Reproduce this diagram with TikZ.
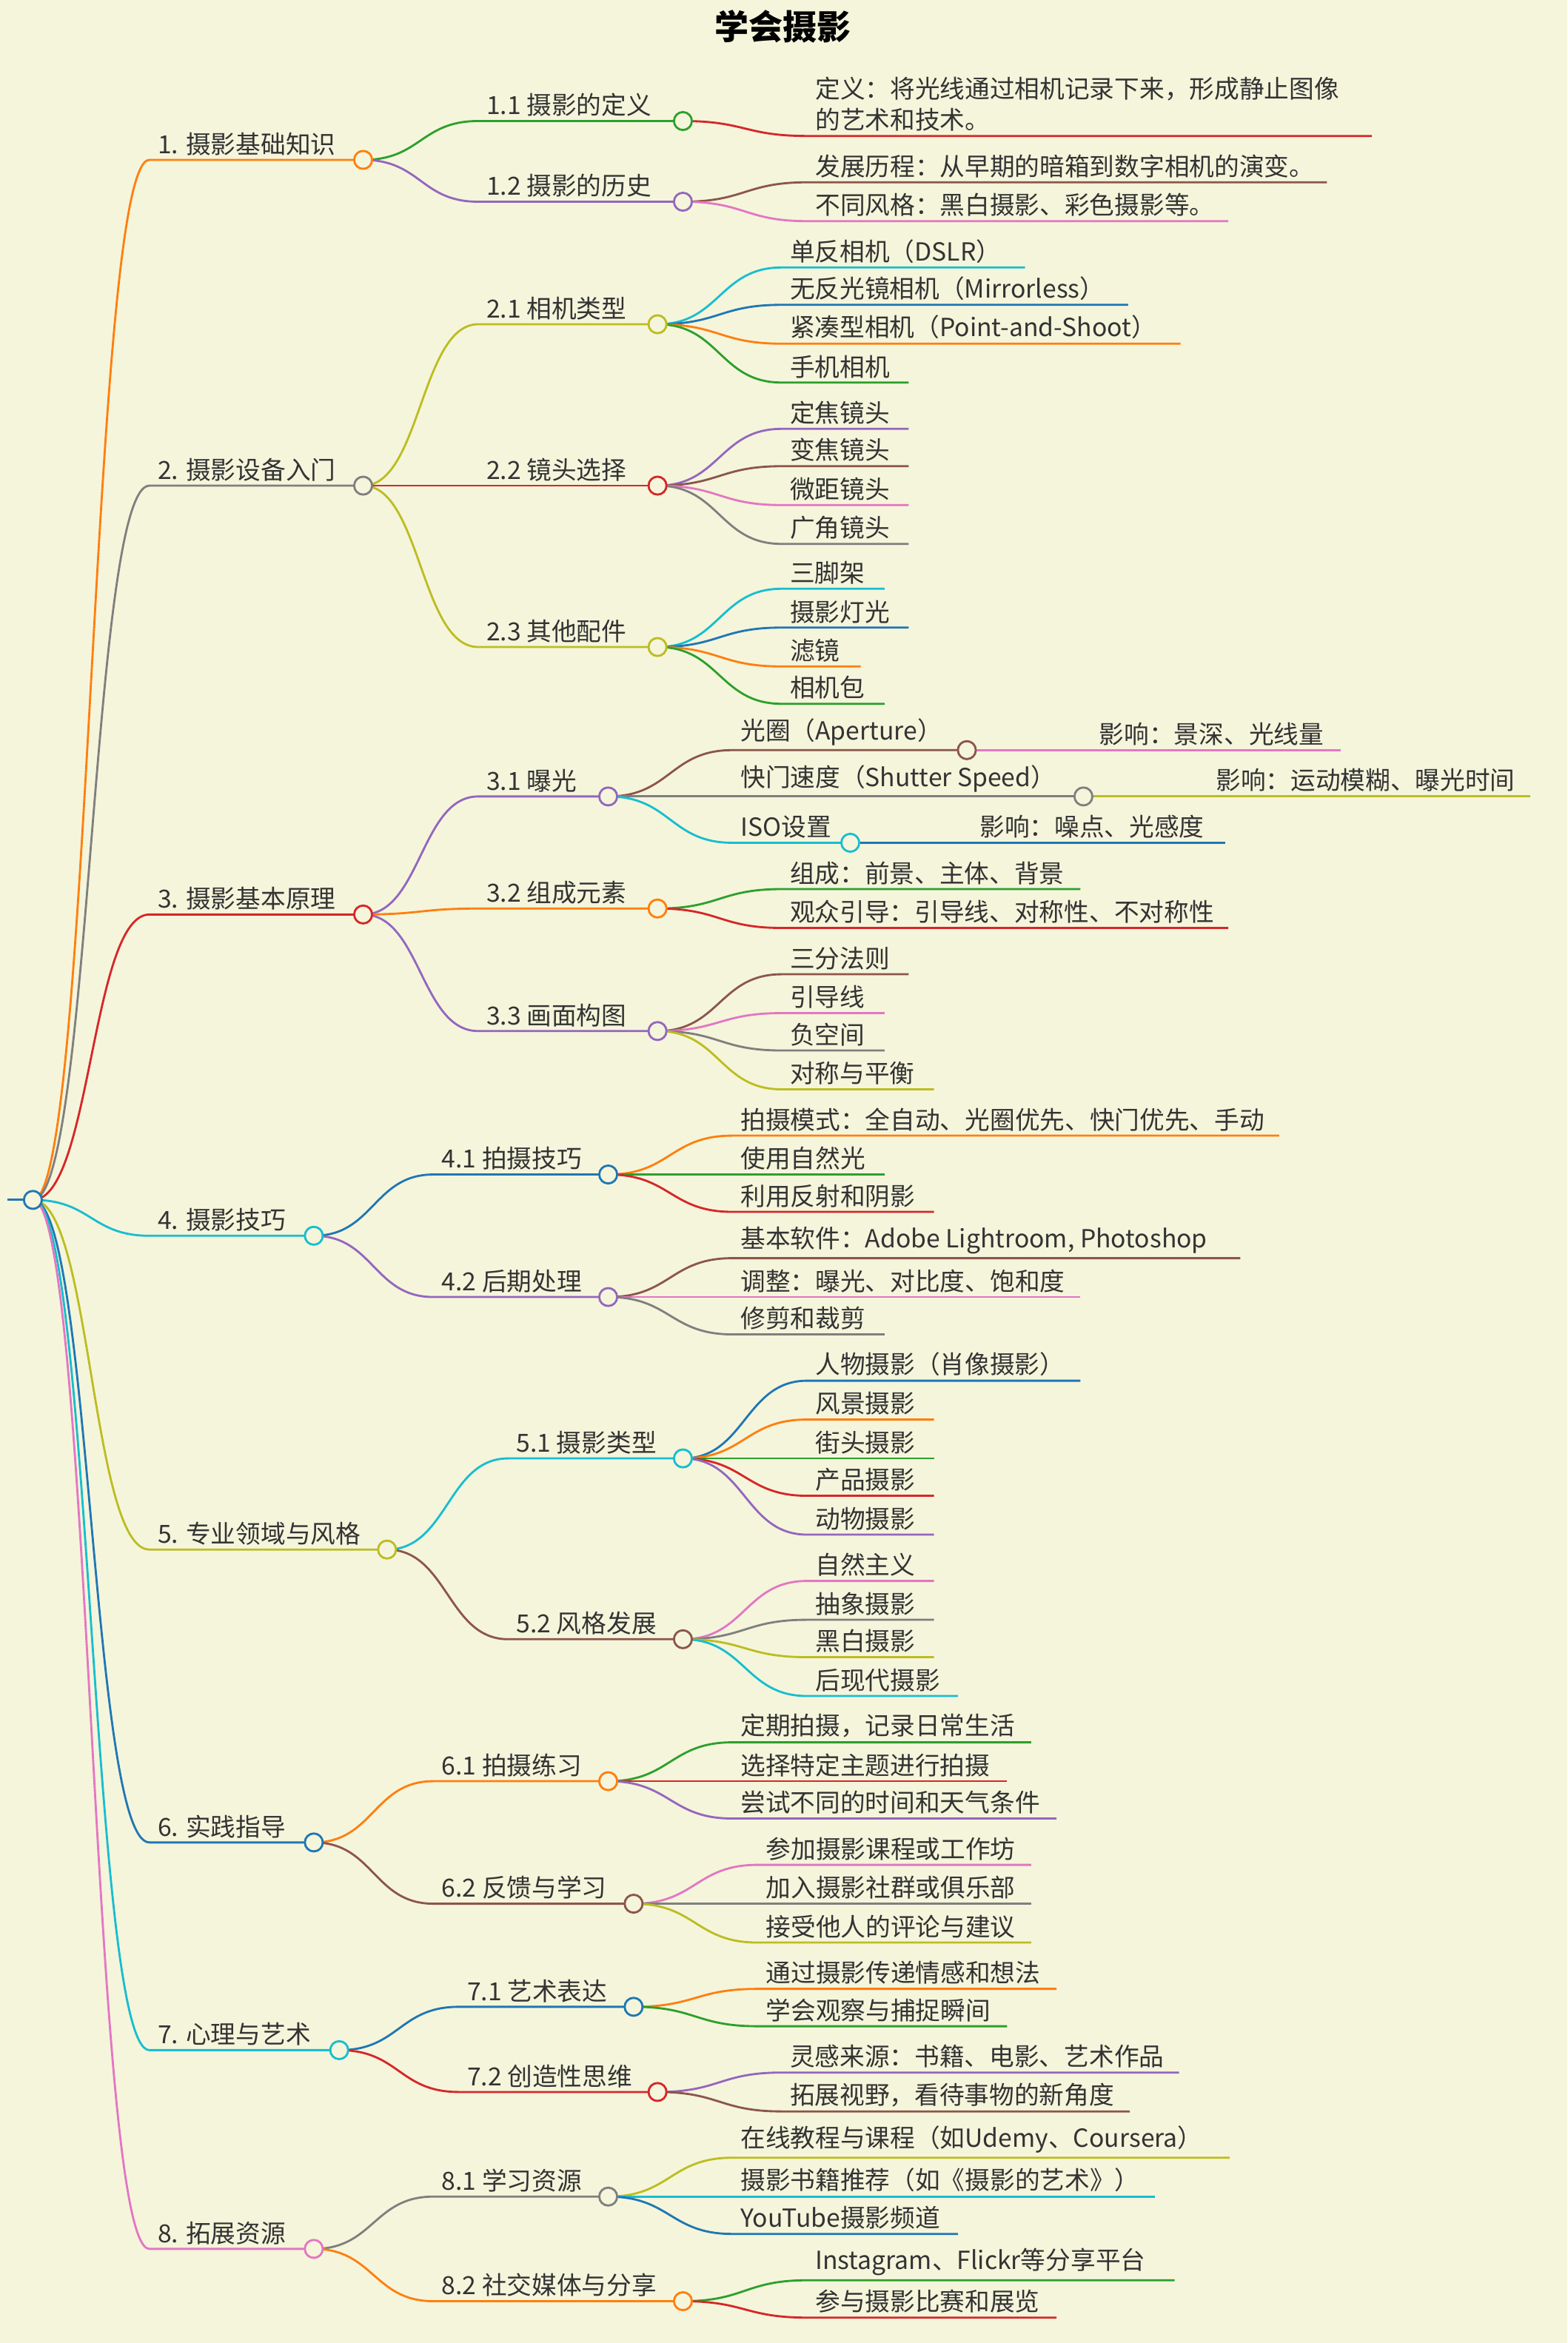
\documentclass[tikz,border=0pt]{standalone}
\usepackage{fontspec}
\setmainfont{Noto Sans CJK SC}
\usetikzlibrary{calc}
\pgfdeclarelayer{bg}
\pgfdeclarelayer{conn}
\pgfsetlayers{bg,conn,main}
\definecolor{paper}{HTML}{F5F5DC}
\definecolor{cor}{HTML}{FF7F0E}
\definecolor{cgr}{HTML}{2CA02C}
\definecolor{cre}{HTML}{D62728}
\definecolor{cpu}{HTML}{9467BD}
\definecolor{cbr}{HTML}{8C564B}
\definecolor{cpi}{HTML}{E377C2}
\definecolor{cga}{HTML}{7F7F7F}
\definecolor{col}{HTML}{BCBD22}
\definecolor{ccy}{HTML}{17BECF}
\definecolor{cbl}{HTML}{1F77B4}
\definecolor{ink}{HTML}{333333}
\tikzset{
  lbl/.style={font=\fontsize{9.5}{12}\selectfont, text=ink, inner xsep=3pt, inner ysep=1.5pt, align=left},
  conn/.style={line width=0.8pt},
  dot/.style={circle, fill=paper, line width=0.8pt, minimum size=0.24cm, inner sep=0pt}
}
% name, parent, x, y, x end, colour, text
\newcommand{\mmitem}[7]{%
  \coordinate (#1s) at (#3,#4);
  \coordinate (#1) at (#5,#4);
  \node[lbl, anchor=south west] (#1t) at (#1s) {#7};
  \begin{pgfonlayer}{conn}
    \draw[#6, conn] (#2) .. controls ($(#2)!0.5!(#2 -| #1s)$) and ($(#1s)!0.5!(#1s -| #2)$) .. (#1s) -- (#1);
  \end{pgfonlayer}
}
\newcommand{\mmdot}[2]{\node[dot, draw=#2] at (#1) {};}
\begin{document}
\begin{tikzpicture}[x=0.02cm, y=-0.02cm]
  \begin{pgfonlayer}{bg}
    \fill[paper] (0,0) rectangle (1049,1568);
  \end{pgfonlayer}
  \useasboundingbox (0,0) rectangle (1049,1568);

  \node[font=\fontsize{13}{15}\selectfont\bfseries, text=black] (title) at (524,18) {学会摄影};

  % root
  \coordinate (r0) at (5,803);
  \coordinate (r) at (22,803);
  \draw[cbl, conn] (r0) -- (r);

  % 1
  \mmitem{a}{r}{100}{107}{243}{cor}{1. 摄影基础知识}
  \mmitem{a1}{a}{320}{81}{457}{cgr}{1.1 摄影的定义}
  \mmitem{a11}{a1}{540}{91}{918}{cre}{定义：将光线通过相机记录下来，形成静止图像\\的艺术和技术。}
  \mmitem{a2}{a}{320}{135}{457}{cpu}{1.2 摄影的历史}
  \mmitem{a21}{a2}{540}{122}{888}{cbr}{发展历程：从早期的暗箱到数字相机的演变。}
  \mmitem{a22}{a2}{540}{148}{822}{cpi}{不同风格：黑白摄影、彩色摄影等。}

  % 2
  \mmitem{b}{r}{100}{325}{243}{cga}{2. 摄影设备入门}
  \mmitem{b1}{b}{320}{217}{440}{col}{2.1 相机类型}
  \mmitem{b11}{b1}{523}{179}{686}{ccy}{单反相机（DSLR）}
  \mmitem{b12}{b1}{523}{204}{755}{cbl}{无反光镜相机（Mirrorless）}
  \mmitem{b13}{b1}{523}{230}{790}{cor}{紧凑型相机（Point-and-Shoot）}
  \mmitem{b14}{b1}{523}{256}{608}{cgr}{手机相机}
  \mmitem{b2}{b}{320}{325}{440}{cre}{2.2 镜头选择}
  \mmitem{b21}{b2}{523}{287}{608}{cpu}{定焦镜头}
  \mmitem{b22}{b2}{523}{312}{608}{cbr}{变焦镜头}
  \mmitem{b23}{b2}{523}{338}{608}{cpi}{微距镜头}
  \mmitem{b24}{b2}{523}{364}{608}{cga}{广角镜头}
  \mmitem{b3}{b}{320}{433}{440}{col}{2.3 其他配件}
  \mmitem{b31}{b3}{523}{394}{592}{ccy}{三脚架}
  \mmitem{b32}{b3}{523}{420}{608}{cbl}{摄影灯光}
  \mmitem{b33}{b3}{523}{446}{576}{cor}{滤镜}
  \mmitem{b34}{b3}{523}{471}{592}{cgr}{相机包}

  % 3
  \mmitem{c}{r}{100}{612}{243}{cre}{3. 摄影基本原理}
  \mmitem{c1}{c}{320}{533}{407}{cpu}{3.1 曝光}
  \mmitem{c11}{c1}{490}{502}{647}{cbr}{光圈（Aperture）}
  \mmitem{c111}{c11}{730}{502}{897}{cpi}{影响：景深、光线量}
  \mmitem{c12}{c1}{490}{533}{725}{cga}{快门速度（Shutter Speed）}
  \mmitem{c121}{c12}{808}{533}{1024}{col}{影响：运动模糊、曝光时间}
  \mmitem{c13}{c1}{490}{564}{569}{ccy}{ISO设置}
  \mmitem{c131}{c13}{650}{564}{820}{cbl}{影响：噪点、光感度}
  \mmitem{c2}{c}{320}{608}{440}{cor}{3.2 组成元素}
  \mmitem{c21}{c2}{523}{595}{723}{cgr}{组成：前景、主体、背景}
  \mmitem{c22}{c2}{523}{621}{822}{cre}{观众引导：引导线、对称性、不对称性}
  \mmitem{c3}{c}{320}{690}{440}{cpu}{3.3 画面构图}
  \mmitem{c31}{c3}{523}{652}{608}{cbr}{三分法则}
  \mmitem{c32}{c3}{523}{678}{592}{cpi}{引导线}
  \mmitem{c33}{c3}{523}{703}{592}{cga}{负空间}
  \mmitem{c34}{c3}{523}{729}{625}{col}{对称与平衡}

  % 4
  \mmitem{d}{r}{100}{827}{210}{ccy}{4. 摄影技巧}
  \mmitem{d1}{d}{290}{786}{407}{cbl}{4.1 拍摄技巧}
  \mmitem{d11}{d1}{490}{760}{856}{cor}{拍摄模式：全自动、光圈优先、快门优先、手动}
  \mmitem{d12}{d1}{490}{786}{592}{cgr}{使用自然光}
  \mmitem{d13}{d1}{490}{811}{625}{cre}{利用反射和阴影}
  \mmitem{d2}{d}{290}{868}{407}{cpu}{4.2 后期处理}
  \mmitem{d21}{d2}{490}{842}{830}{cbr}{基本软件：Adobe Lightroom, Photoshop}
  \mmitem{d22}{d2}{490}{868}{723}{cpi}{调整：曝光、对比度、饱和度}
  \mmitem{d23}{d2}{490}{893}{592}{cga}{修剪和裁剪}

  % 5
  \mmitem{e}{r}{100}{1037}{259}{col}{5. 专业领域与风格}
  \mmitem{e1}{e}{340}{976}{457}{ccy}{5.1 摄影类型}
  \mmitem{e11}{e1}{540}{924}{723}{cbl}{人物摄影（肖像摄影）}
  \mmitem{e12}{e1}{540}{950}{625}{cor}{风景摄影}
  \mmitem{e13}{e1}{540}{976}{625}{cgr}{街头摄影}
  \mmitem{e14}{e1}{540}{1001}{625}{cre}{产品摄影}
  \mmitem{e15}{e1}{540}{1027}{625}{cpu}{动物摄影}
  \mmitem{e2}{e}{340}{1097}{457}{cbr}{5.2 风格发展}
  \mmitem{e21}{e2}{540}{1058}{625}{cpi}{自然主义}
  \mmitem{e22}{e2}{540}{1084}{625}{cga}{抽象摄影}
  \mmitem{e23}{e2}{540}{1109}{625}{col}{黑白摄影}
  \mmitem{e24}{e2}{540}{1135}{641}{ccy}{后现代摄影}

  % 6
  \mmitem{f}{r}{100}{1233}{210}{cbl}{6. 实践指导}
  \mmitem{f1}{f}{290}{1192}{407}{cor}{6.1 拍摄练习}
  \mmitem{f11}{f1}{490}{1166}{690}{cgr}{定期拍摄，记录日常生活}
  \mmitem{f12}{f1}{490}{1192}{674}{cre}{选择特定主题进行拍摄}
  \mmitem{f13}{f1}{490}{1217}{707}{cpu}{尝试不同的时间和天气条件}
  \mmitem{f2}{f}{290}{1274}{424}{cbr}{6.2 反馈与学习}
  \mmitem{f21}{f2}{507}{1248}{690}{cpi}{参加摄影课程或工作坊}
  \mmitem{f22}{f2}{507}{1274}{690}{cga}{加入摄影社群或俱乐部}
  \mmitem{f23}{f2}{507}{1300}{690}{col}{接受他人的评论与建议}

  % 7
  \mmitem{g}{r}{100}{1372}{227}{ccy}{7. 心理与艺术}
  \mmitem{g1}{g}{307}{1343}{424}{cbl}{7.1 艺术表达}
  \mmitem{g11}{g1}{507}{1331}{707}{cor}{通过摄影传递情感和想法}
  \mmitem{g12}{g1}{507}{1356}{674}{cgr}{学会观察与捕捉瞬间}
  \mmitem{g2}{g}{307}{1400}{440}{cre}{7.2 创造性思维}
  \mmitem{g21}{g2}{523}{1387}{789}{cpu}{灵感来源：书籍、电影、艺术作品}
  \mmitem{g22}{g2}{523}{1413}{756}{cbr}{拓展视野，看待事物的新角度}

  % 8
  \mmitem{h}{r}{100}{1505}{210}{cpi}{8. 拓展资源}
  \mmitem{h1}{h}{290}{1470}{407}{cga}{8.1 学习资源}
  \mmitem{h11}{h1}{490}{1444}{823}{col}{在线教程与课程（如Udemy、Coursera）}
  \mmitem{h12}{h1}{490}{1470}{773}{ccy}{摄影书籍推荐（如《摄影的艺术》）}
  \mmitem{h13}{h1}{490}{1495}{641}{cbl}{YouTube摄影频道}
  \mmitem{h2}{h}{290}{1540}{457}{cor}{8.2 社交媒体与分享}
  \mmitem{h21}{h2}{540}{1526}{786}{cgr}{Instagram、Flickr等分享平台}
  \mmitem{h22}{h2}{540}{1551}{707}{cre}{参与摄影比赛和展览}

  % dots
  \mmdot{r}{cbl}
  \mmdot{a}{cor} \mmdot{a1}{cgr} \mmdot{a2}{cpu}
  \mmdot{b}{cga} \mmdot{b1}{col} \mmdot{b2}{cre} \mmdot{b3}{col}
  \mmdot{c}{cre} \mmdot{c1}{cpu} \mmdot{c2}{cor} \mmdot{c3}{cpu}
  \mmdot{c11}{cbr} \mmdot{c12}{cga} \mmdot{c13}{ccy}
  \mmdot{d}{ccy} \mmdot{d1}{cbl} \mmdot{d2}{cpu}
  \mmdot{e}{col} \mmdot{e1}{ccy} \mmdot{e2}{cbr}
  \mmdot{f}{cbl} \mmdot{f1}{cor} \mmdot{f2}{cbr}
  \mmdot{g}{ccy} \mmdot{g1}{cbl} \mmdot{g2}{cre}
  \mmdot{h}{cpi} \mmdot{h1}{cga} \mmdot{h2}{cor}
\end{tikzpicture}
\end{document}
